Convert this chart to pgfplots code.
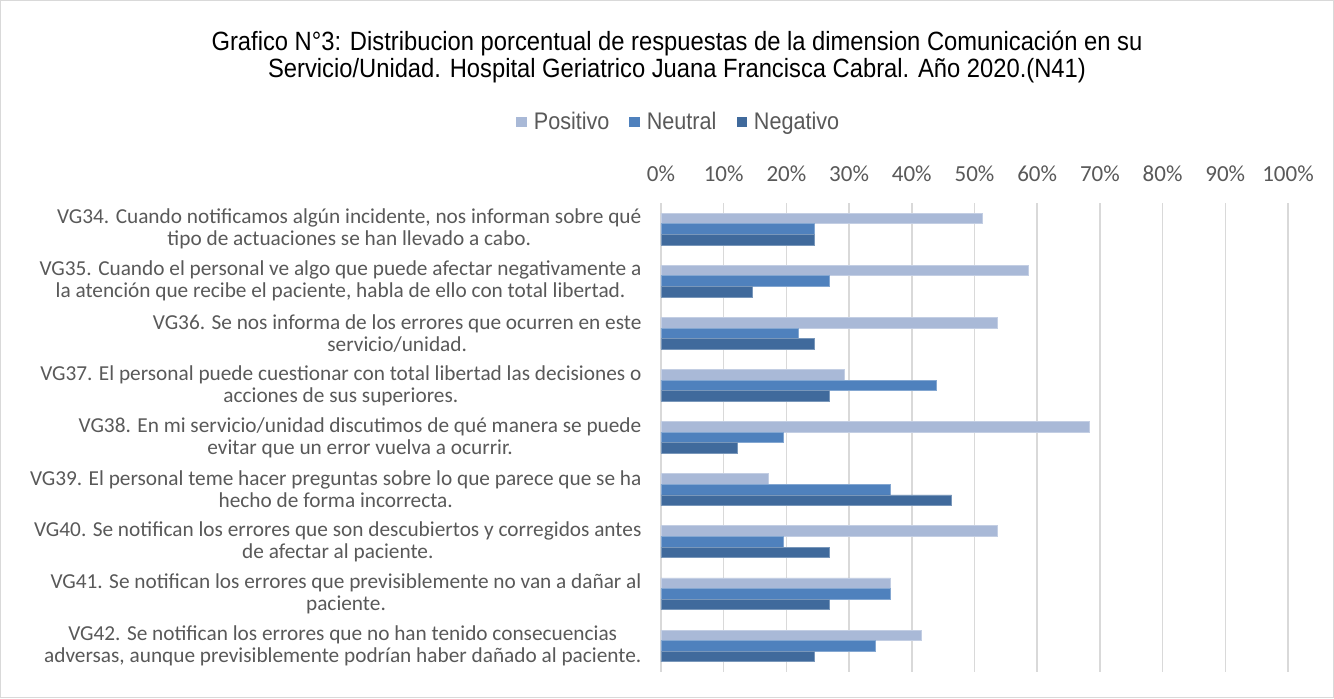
\documentclass[border=0pt]{standalone}
\usepackage{fontspec}
\setmainfont{Carlito}
\newfontfamily\titlefont[FakeStretch=0.9]{Liberation Sans}
\usepackage{pgfplots}
\pgfplotsset{compat=1.18}
\definecolor{cpos}{HTML}{A9B9D7}
\definecolor{cneu}{HTML}{4F81BD}
\definecolor{cneg}{HTML}{406A9C}
\definecolor{txt}{HTML}{595959}
\definecolor{grid}{HTML}{D9D9D9}
\begin{document}
\begin{tikzpicture}
\draw[draw=grid, fill=white, line width=0.5pt] (0.25pt,0.25pt) rectangle (666.75pt,348.75pt);
\node[font=\titlefont\fontsize{13.2}{13.5}\selectfont, align=center, text=black] at (338.5pt,320.25pt)
 {Grafico N°3: Distribucion porcentual de respuestas de la dimension Comunicación en su\\Servicio/Unidad. Hospital Geriatrico Juana Francisca Cabral. Año 2020.(N41)};
\begin{axis}[
  at={(330.5pt,13pt)}, anchor=south west,
  width=313.5pt, height=234.5pt, scale only axis,
  xmin=0, xmax=100, ymin=-0.5, ymax=8.5, y dir=reverse,
  xbar, bar width=5.3pt,
  xtick={0,10,...,100},
  xticklabels={0\%,10\%,20\%,30\%,40\%,50\%,60\%,70\%,80\%,90\%,100\%},
  xticklabel pos=upper,
  xticklabel style={font=\fontsize{11.5}{13}\selectfont, text=txt, yshift=7pt},
  xmajorgrids, major grid style={draw=grid, line width=0.8pt},
  ytick={0,...,8},
  yticklabels={
    {VG34. Cuando notificamos algún incidente, nos informan sobre qué\\tipo de actuaciones se han llevado a cabo.},
    {VG35. Cuando el personal ve algo que puede afectar negativamente a\\la atención que recibe el paciente, habla de ello con total libertad.},
    {VG36. Se nos informa de los errores que ocurren en este\\servicio/unidad.},
    {VG37. El personal puede cuestionar con total libertad las decisiones o\\acciones de sus superiores.},
    {VG38. En mi servicio/unidad discutimos de qué manera se puede\\evitar que un error vuelva a ocurrir.},
    {VG39. El personal teme hacer preguntas sobre lo que parece que se ha\\hecho de forma incorrecta.},
    {VG40. Se notifican los errores que son descubiertos y corregidos antes\\de afectar al paciente.},
    {VG41. Se notifican los errores que previsiblemente no van a dañar al\\paciente.},
    {VG42. Se notifican los errores que no han tenido consecuencias\\adversas, aunque previsiblemente podrían haber dañado al paciente.}},
  yticklabel style={font=\fontsize{10.65}{11}\selectfont, text=txt, align=center, anchor=east, xshift=-2pt},
  axis line style={draw=none}, tick style={draw=none},
  legend style={at={(0.03,1.173)}, anchor=center, draw=none, fill=none,
    legend columns=-1, font=\titlefont\fontsize{12}{13}\selectfont, text=txt,
    /tikz/every odd column/.append style={column sep=1.5pt},
    /tikz/every even column/.append style={column sep=8pt}},
  legend image code/.code={\fill[#1,draw=none] (0pt,-2.6pt) rectangle (5.2pt,2.6pt);},
]
\addplot[fill=cpos, draw=cpos!70!white, line width=0.4pt, bar shift=5.3pt] coordinates {
 (51.22,0) (58.54,1) (53.66,2) (29.27,3) (68.29,4) (17.07,5) (53.66,6) (36.59,7) (41.46,8)};
\addplot[fill=cneu, draw=cneu!70!white, line width=0.4pt, bar shift=0pt] coordinates {
 (24.39,0) (26.83,1) (21.95,2) (43.90,3) (19.51,4) (36.59,5) (19.51,6) (36.59,7) (34.15,8)};
\addplot[fill=cneg, draw=cneg!70!white, line width=0.4pt, bar shift=-5.3pt] coordinates {
 (24.39,0) (14.63,1) (24.39,2) (26.83,3) (12.20,4) (46.34,5) (26.83,6) (26.83,7) (24.39,8)};
\legend{Positivo,Neutral,Negativo}
\end{axis}
\end{tikzpicture}
\end{document}
